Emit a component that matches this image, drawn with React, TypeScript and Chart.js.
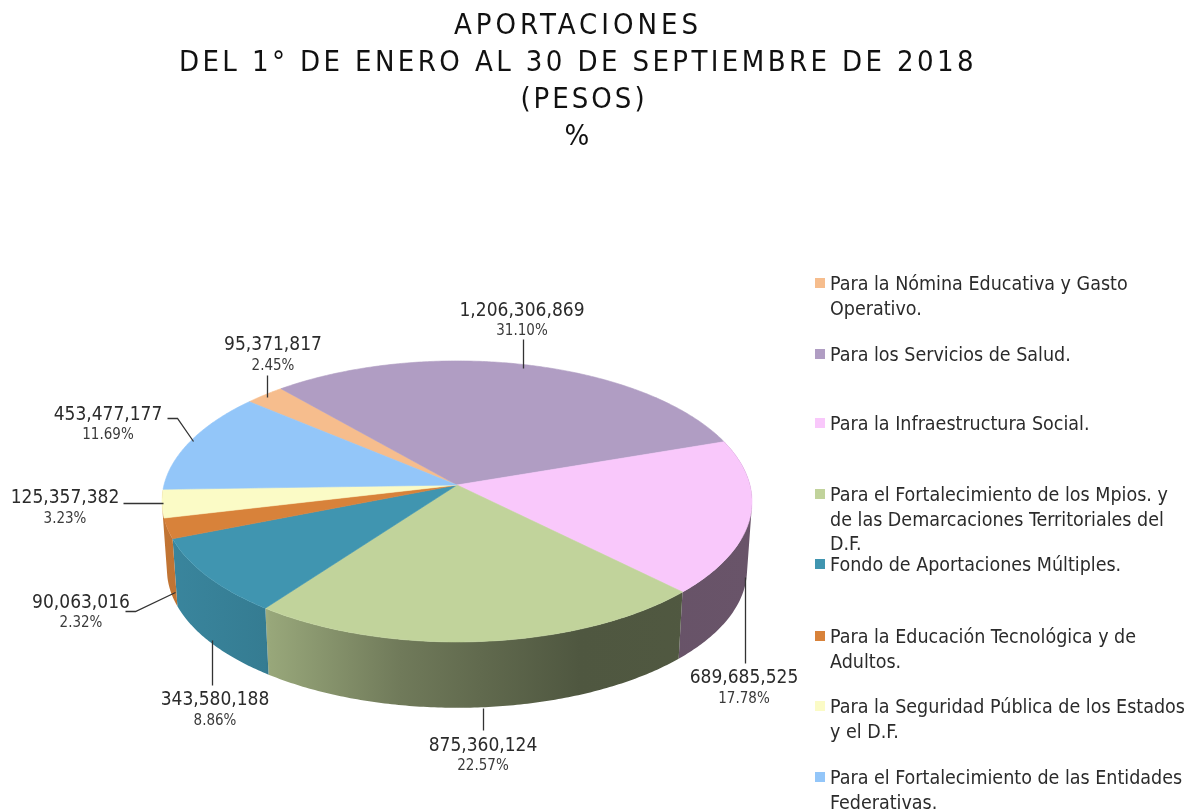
import React, { useEffect, useRef } from "react";
import { Chart, registerables } from "chart.js";

Chart.register(...registerables);

const titleLines = ["APORTACIONES", "DEL 1° DE ENERO AL 30 DE SEPTIEMBRE DE 2018", "(PESOS)", "%"];
const categories = [
  ["Para la Nómina Educativa y Gasto", "Operativo."],
  ["Para los Servicios de Salud."],
  ["Para la Infraestructura Social."],
  ["Para el Fortalecimiento de los Mpios. y", "de las Demarcaciones Territoriales del", "D.F."],
  ["Fondo de Aportaciones Múltiples."],
  ["Para la Educación Tecnológica y de", "Adultos."],
  ["Para la Seguridad Pública de los Estados", "y el D.F."],
  ["Para el Fortalecimiento de las Entidades", "Federativas."],
];
const values = [95371817, 1206306869, 689685525, 875360124, 343580188, 90063016, 125357382, 453477177];
const percents = ["2.45%", "31.10%", "17.78%", "22.57%", "8.86%", "2.32%", "3.23%", "11.69%"];
const colors = ["#f6bd8d", "#b09dc3", "#f9c8fb", "#c1d39b", "#4095b0", "#d8823a", "#fbfbc6", "#93c6f9"];

// Title layout per line: centre, letter spacing
const titleCentres = [578, 578, 584, 577];
const titleSpacing = ["4px", "3.4px", "3px", "0px"];

// Label layout: value-text centre and baseline, percent baseline, leader polyline
const labelAnchors = [
  { x: 273, y: 350, py: 370, leader: [[267, 375], [267, 397]] },
  { x: 522, y: 316, py: 335, leader: [[523, 339], [523, 368]] },
  { x: 744, y: 683, py: 703, leader: [[745, 577], [745, 663]] },
  { x: 483, y: 751, py: 770, leader: [[483, 708], [483, 730]] },
  { x: 215, y: 705, py: 725, leader: [[212, 640], [212, 685]] },
  { x: 81, y: 608, py: 627, leader: [[125, 611], [135, 611], [175, 592]] },
  { x: 65, y: 503, py: 523, leader: [[123, 503], [163, 503]] },
  { x: 108, y: 420, py: 439, leader: [[167, 418], [177, 418], [193, 441]] },
];
const legendRows = [290, 361, 430, 501, 571, 643, 713, 784];

const FONT = '"DejaVu Sans Condensed", "DejaVu Sans", sans-serif';
const PERSPECTIVE = 0.117;
const SQUASH = 0.473;
const BASE_SCALE = 0.983;
const DEPTH = 68.5;
const shadeStops = [
  [162, 0.9], [265, 0.83], [270, 0.79], [400, 0.58], [480, 0.5], [580, 0.41], [752, 0.42],
];

function shade(hex: string, f: number) {
  const n = parseInt(hex.slice(1), 16);
  return `rgb(${Math.round((n >> 16) * f)},${Math.round(((n >> 8) & 255) * f)},${Math.round((n & 255) * f)})`;
}

const pie3d = {
  id: "pie3d",
  beforeDatasetsDraw(chart: any) {
    const ctx = chart.ctx;
    const arcs = chart.getDatasetMeta(0).data;
    const { x: cx, y: cy, outerRadius: R } = arcs[0];
    const b = R * SQUASH;
    const top = (a: number) => {
      const s = 1 / (1 - PERSPECTIVE * Math.sin(a));
      return [cx + R * Math.cos(a) * s, cy + b * Math.sin(a) * s];
    };
    const bot = (a: number) => {
      const [x, y] = top(a);
      return [cx + BASE_SCALE * (x - cx), cy + BASE_SCALE * (y - cy) + DEPTH];
    };
    const sweep = (a0: number, a1: number) => {
      const n = Math.max(2, Math.ceil((a1 - a0) * 90));
      return Array.from({ length: n + 1 }, (_, i) => a0 + ((a1 - a0) * i) / n);
    };
    const hidden = arcs.map((p: any) => Math.sin((p.startAngle + p.endAngle) / 2) < 0.15);
    ctx.save();
    arcs.forEach((p: any, i: number) => {
      if (hidden[i]) return;
      const end = hidden[(i + 1) % arcs.length] ? arcs[(i + 1) % arcs.length].endAngle : p.endAngle;
      const grad = ctx.createLinearGradient(162, 0, 752, 0);
      shadeStops.forEach(([x, f]) => grad.addColorStop((x - 162) / 590, shade(colors[i], f)));
      ctx.fillStyle = grad;
      const as = sweep(p.startAngle, end);
      ctx.beginPath();
      for (let k = 0; k + 1 < as.length; k++) {
        const q = [top(as[k]), top(as[k + 1]), bot(as[k + 1]), bot(as[k])];
        let area = 0;
        q.forEach(([x, y], m) => {
          const [nx, ny] = q[(m + 1) % 4];
          area += x * ny - nx * y;
        });
        if (area < 0) q.reverse();
        q.forEach(([x, y], m) => (m === 0 ? ctx.moveTo(x, y) : ctx.lineTo(x, y)));
        ctx.closePath();
      }
      ctx.fill("nonzero");
    });
    arcs.forEach((p: any, i: number) => {
      ctx.beginPath();
      ctx.moveTo(cx, cy);
      sweep(p.startAngle, p.endAngle).forEach((a) => ctx.lineTo(...(top(a) as [number, number])));
      ctx.closePath();
      ctx.fillStyle = colors[i];
      ctx.strokeStyle = colors[i];
      ctx.lineWidth = 0.6;
      ctx.fill();
      ctx.stroke();
    });
    ctx.restore();
    return false;
  },
  afterDraw(chart: any) {
    const ctx = chart.ctx;
    ctx.save();
    ctx.textBaseline = "alphabetic";
    ctx.textAlign = "center";
    ctx.fillStyle = "#111";
    ctx.font = `29px ${FONT}`;
    titleLines.forEach((t, i) => {
      ctx.letterSpacing = titleSpacing[i];
      ctx.fillText(t, titleCentres[i], 33.5 + i * 37.3);
    });
    ctx.letterSpacing = "0px";

    labelAnchors.forEach((l, i) => {
      ctx.fillStyle = "#2b2b2b";
      ctx.font = `19px ${FONT}`;
      ctx.fillText(values[i].toLocaleString("en-US"), l.x, l.y);
      ctx.fillStyle = "#3a3a3a";
      ctx.font = `15px ${FONT}`;
      ctx.fillText(percents[i], l.x, l.py);
      ctx.beginPath();
      l.leader.forEach(([x, y]) => ctx.lineTo(x + 0.5, y + 0.5));
      ctx.strokeStyle = "#333";
      ctx.lineWidth = 1.3;
      ctx.stroke();
    });

    ctx.textAlign = "left";
    categories.forEach((lines, i) => {
      ctx.fillStyle = colors[i];
      ctx.fillRect(815, legendRows[i] - 12, 10, 10);
      ctx.fillStyle = "#2b2b2b";
      ctx.font = `19.5px ${FONT}`;
      lines.forEach((t, j) => ctx.fillText(t, 830, legendRows[i] + j * 24.5));
    });
    ctx.restore();
  },
};

export default function App() {
  const ref = useRef<HTMLCanvasElement>(null);
  useEffect(() => {
    const chart = new Chart(ref.current as HTMLCanvasElement, {
      type: "pie",
      data: {
        labels: categories.map((c) => c.join(" ")),
        datasets: [{ data: values, backgroundColor: colors, borderWidth: 0 }],
      },
      options: {
        animation: false,
        responsive: false,
        rotation: -49.7,
        layout: { padding: { left: 164, top: 192, right: 446, bottom: 32 } },
        plugins: { legend: { display: false }, title: { display: false }, tooltip: { enabled: false } },
      },
      plugins: [pie3d],
    } as any);
    return () => chart.destroy();
  }, []);
  return (
    <div style={{ position: "absolute", left: 0, top: 0 }}>
      <canvas ref={ref} width={1196} height={810} style={{ display: "block" }} />
    </div>
  );
}
